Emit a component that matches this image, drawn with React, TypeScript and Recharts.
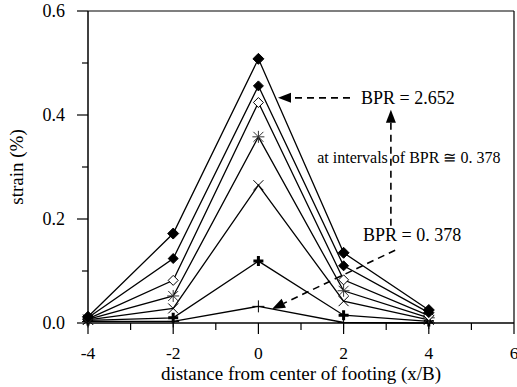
import React from 'react';
import { LineChart, Line, XAxis, YAxis, ReferenceLine, ReferenceDot } from 'recharts';

// distance from center of footing (x/B)
const xPositions = [-4, -2, 0, 2, 4];
// strain (%) for BPR increasing at intervals of ~0.378
const bpr0378 = [0.003, 0.003, 0.032, 0.001, 0.0];
const bpr0756 = [0.005, 0.010, 0.119, 0.015, 0.003];
const bpr1134 = [0.006, 0.028, 0.265, 0.042, 0.006];
const bpr1512 = [0.007, 0.052, 0.358, 0.062, 0.010];
const bpr1890 = [0.008, 0.082, 0.424, 0.083, 0.014];
const bpr2268 = [0.010, 0.124, 0.456, 0.110, 0.020];
const bpr2652 = [0.012, 0.172, 0.508, 0.135, 0.025];

const xTicks = [-4, -3, -2, -1, 0, 1, 2, 3, 4, 5, 6];
const yTicks = [0, 0.1, 0.2, 0.3, 0.4, 0.5, 0.6];

const seriesKeys = ['s1', 's2', 's3', 's4', 's5', 's6', 's7'];
const seriesValues = [bpr0378, bpr0756, bpr1134, bpr1512, bpr1890, bpr2268, bpr2652];
const seriesMarkers = ['thinPlus', 'thickPlus', 'cross', 'asterisk', 'openDiamond', 'smallDiamond', 'bigDiamond'];

const data = xPositions.map((x, i) => {
  const row: any = { x };
  seriesKeys.forEach((k, j) => { row[k] = seriesValues[j][i]; });
  return row;
});

const FONT = "'Liberation Serif', 'DejaVu Serif', serif";
const txt = (size: number): React.CSSProperties => ({ fontFamily: FONT, fontSize: size });

function Marker({ cx, cy, kind }: { cx: number; cy: number; kind: string }) {
  if (cx == null || cy == null) return null;
  switch (kind) {
    case 'thinPlus':
      return <path d={`M${cx - 6},${cy}H${cx + 6}M${cx},${cy - 6}V${cy + 6}`} stroke="#000" strokeWidth={1} fill="none" />;
    case 'thickPlus':
      return <path d={`M${cx - 5},${cy}H${cx + 5}M${cx},${cy - 5}V${cy + 5}`} stroke="#000" strokeWidth={3} fill="none" />;
    case 'cross':
      return <path d={`M${cx - 5},${cy - 5}L${cx + 5},${cy + 5}M${cx - 5},${cy + 5}L${cx + 5},${cy - 5}`} stroke="#000" strokeWidth={1} fill="none" />;
    case 'asterisk':
      return <path d={`M${cx - 5},${cy - 5}L${cx + 5},${cy + 5}M${cx - 5},${cy + 5}L${cx + 5},${cy - 5}M${cx - 6},${cy}H${cx + 6}M${cx},${cy - 6}V${cy + 6}`} stroke="#333" strokeWidth={1} fill="none" />;
    case 'openDiamond':
      return <path d={`M${cx},${cy - 5}L${cx + 5},${cy}L${cx},${cy + 5}L${cx - 5},${cy}Z`} stroke="#000" strokeWidth={1} fill="#fff" />;
    case 'smallDiamond':
      return <path d={`M${cx},${cy - 5}L${cx + 5},${cy}L${cx},${cy + 5}L${cx - 5},${cy}Z`} stroke="#000" strokeWidth={1} fill="#000" />;
    case 'bigDiamond':
    default:
      return <path d={`M${cx},${cy - 5.5}L${cx + 5.5},${cy}L${cx},${cy + 5.5}L${cx - 5.5},${cy}Z`} stroke="#000" strokeWidth={1} fill="#000" />;
  }
}

const XTick = (props: any) => {
  const { x, y, payload } = props;
  const v = payload.value;
  const major = Math.round(v) % 2 === 0;
  return (
    <g>
      <line x1={x} y1={y} x2={x} y2={y + (major ? 11 : 7)} stroke="#000" strokeWidth={1.2} />
      {major && (
        <text x={x} y={y + 36} textAnchor="middle" style={txt(17.5)} fill="#000">{v}</text>
      )}
    </g>
  );
};

const YTick = (props: any) => {
  const { x, y, payload } = props;
  const v = payload.value;
  const major = Math.round(v * 10) % 2 === 0;
  return (
    <g>
      <line x1={x - (major ? 11 : 6)} y1={y} x2={x} y2={y} stroke="#000" strokeWidth={1.2} />
      {major && (
        <text x={x - 23} y={y + 6} textAnchor="end" style={txt(18)} fill="#000">{v.toFixed(1)}</text>
      )}
    </g>
  );
};

const Arrow = (p: any) => {
  const { x1, y1, x2, y2 } = p;
  if ([x1, y1, x2, y2].some((v) => v == null || isNaN(v))) return null;
  const dx = x2 - x1;
  const dy = y2 - y1;
  const len = Math.sqrt(dx * dx + dy * dy);
  const ux = dx / len;
  const uy = dy / len;
  const hl = 13;
  const hw = 5;
  const bx = x2 - ux * hl;
  const by = y2 - uy * hl;
  const px = -uy;
  const py = ux;
  return (
    <g>
      <line x1={x1} y1={y1} x2={bx} y2={by} stroke="#000" strokeWidth={1.6} strokeDasharray="7 5" />
      <polygon points={`${x2},${y2} ${bx + px * hw},${by + py * hw} ${bx - px * hw},${by - py * hw}`} fill="#000" />
    </g>
  );
};

const makeText = (text: string, size: number) => (p: any) => (
  <text x={p.cx} y={p.cy} dy="0.35em" textAnchor="start" style={txt(size)} fill="#000">{text}</text>
);

export default function App() {
  return (
    <div style={{ position: 'absolute', left: 0, top: 0, background: '#fff' }}>
      <LineChart width={517} height={387} data={data} margin={{ top: 11, right: 3, left: 0, bottom: 0 }}>
        <XAxis
          type="number"
          dataKey="x"
          domain={[-4, 6]}
          ticks={xTicks}
          interval={0}
          tick={<XTick />}
          tickLine={false}
          tickSize={0}
          tickMargin={0}
          height={64}
          axisLine={{ stroke: '#000', strokeWidth: 1.5 }}
          label={(props: any) => {
            const vb = props.viewBox;
            return (
              <text x={vb.x + vb.width / 2} y={vb.y + 57} textAnchor="middle" style={txt(19)} fill="#000">
                distance from center of footing (x/B)
              </text>
            );
          }}
        />
        <YAxis
          type="number"
          domain={[0, 0.6]}
          ticks={yTicks}
          interval={0}
          tick={<YTick />}
          tickLine={false}
          tickSize={0}
          tickMargin={0}
          width={88}
          axisLine={{ stroke: '#000', strokeWidth: 1.5 }}
          label={(props: any) => {
            const vb = props.viewBox;
            const cx = 16;
            const cy = vb.y + vb.height / 2;
            return (
              <text x={cx} y={cy} transform={`rotate(-90, ${cx}, ${cy})`} textAnchor="middle" dominantBaseline="central" style={txt(19)} fill="#000">
                strain (%)
              </text>
            );
          }}
        />
        <ReferenceLine y={0.6} stroke="#000" strokeWidth={1.2} />
        <ReferenceLine x={6} stroke="#000" strokeWidth={1.2} />
        {seriesKeys.map((k, j) => (
          <Line
            key={k}
            dataKey={k}
            type="linear"
            stroke="#000"
            strokeWidth={1.3}
            isAnimationActive={false}
            dot={(p: any) => <Marker key={`${k}-${p.index}`} cx={p.cx} cy={p.cy} kind={seriesMarkers[j]} />}
            activeDot={false}
          />
        ))}
        <ReferenceLine segment={[{ x: 2.15, y: 0.433 }, { x: 0.46, y: 0.433 }]} shape={Arrow} />
        <ReferenceLine segment={[{ x: 3.11, y: 0.187 }, { x: 3.11, y: 0.41 }]} shape={Arrow} />
        <ReferenceLine segment={[{ x: 3.21, y: 0.14 }, { x: 0.32, y: 0.027 }]} shape={Arrow} />
        <ReferenceDot x={2.41} y={0.433} r={0} shape={makeText('BPR = 2.652', 18)} />
        <ReferenceDot x={1.38} y={0.319} r={0} shape={makeText('at intervals of BPR \u2245 0. 378', 16)} />
        <ReferenceDot x={2.455} y={0.169} r={0} shape={makeText('BPR = 0. 378', 18)} />
      </LineChart>
    </div>
  );
}
